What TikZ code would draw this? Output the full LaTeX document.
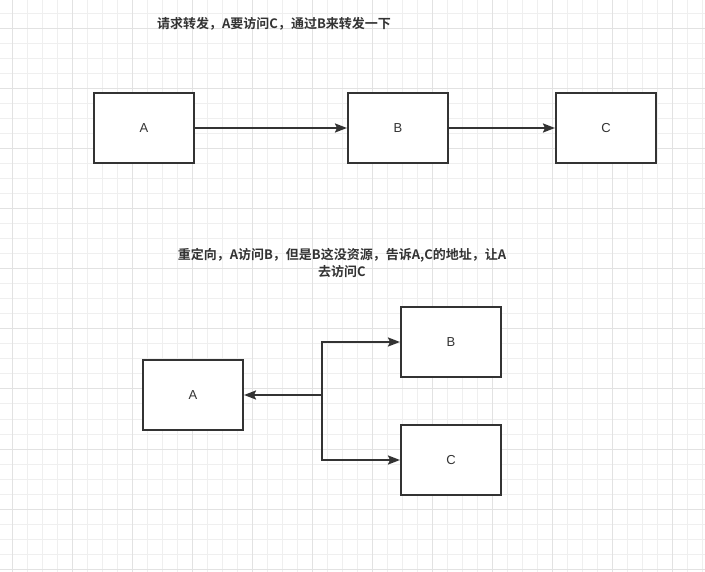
\documentclass[tikz,border=0pt]{standalone}
\usepackage{fontspec}
\setmainfont{Liberation Sans}
\newfontfamily\cjkbold{Noto Sans CJK SC Bold}
\usetikzlibrary{arrows.meta}
\definecolor{ink}{HTML}{333333}
\definecolor{gridminor}{HTML}{EFEFEF}
\definecolor{gridmajor}{HTML}{E2E2E2}
\begin{document}
\begin{tikzpicture}[x=1pt,y=-1pt,
  box/.style={draw=ink, line width=2pt, fill=white, minimum width=100pt,
    minimum height=70pt, inner sep=0pt, font=\fontsize{13}{13}\selectfont,
    text=ink},
  link/.style={draw=ink, line width=2pt,
    -{Stealth[length=12pt,width=9pt,inset=2pt]}},
  caption/.style={font=\cjkbold\fontsize{13}{17}\selectfont, text=ink,
    align=center, inner sep=0pt}]
  % page and background grid
  \useasboundingbox (0,0) rectangle (705,572);
  \fill[white] (0,0) rectangle (705,572);
  \foreach \x in {12,27,...,702} \draw[gridminor, line width=1pt] (\x,0) -- (\x,572);
  \foreach \y in {14,29,...,569} \draw[gridminor, line width=1pt] (0,\y) -- (705,\y);
  \foreach \x in {12,72,...,672} \draw[gridmajor, line width=1pt] (\x,0) -- (\x,572);
  \foreach \y in {29,89,...,569} \draw[gridmajor, line width=1pt] (0,\y) -- (705,\y);

  % forwarding: A -> B -> C
  \node[caption] (t1) at (274,24) {请求转发，A要访问C，通过B来转发一下};
  \node[box] (a1) at (144,128) {A};
  \node[box] (b1) at (398,128) {B};
  \node[box] (c1) at (606,128) {C};
  \draw[link] (a1) -- (b1);
  \draw[link] (b1) -- (c1);

  % redirect: B hands A the address of C
  \node[caption] (t2) at (342,263) {重定向，A访问B，但是B这没资源，告诉A,C的地址，让A\\去访问C};
  \node[box] (a2) at (193,395) {A};
  \node[box] (b2) at (451,342) {B};
  \node[box] (c2) at (451,460) {C};
  \coordinate (j) at (322,395);
  \draw[link] (j) -- (a2.east);
  \draw[link] (j) |- (b2.west);
  \draw[link] (j) |- (c2.west);
\end{tikzpicture}
\end{document}
